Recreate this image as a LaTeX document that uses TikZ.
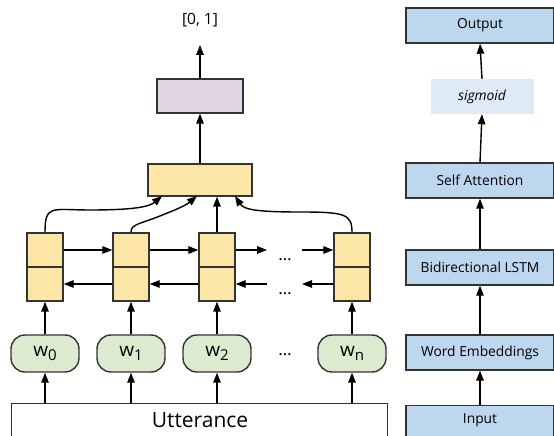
\documentclass[tikz,border=0pt]{standalone}
\usepackage{fontspec}
\setmainfont{Open Sans}
\usetikzlibrary{arrows.meta}
\definecolor{cellyel}{HTML}{FCE6A6}
\definecolor{purp}{HTML}{E2D6E6}
\definecolor{wgreen}{HTML}{DCEBCF}
\definecolor{rblue}{HTML}{BCD7EE}
\definecolor{sigbg}{HTML}{DEEBF7}
\definecolor{edge}{HTML}{333333}
\newcommand{\wsub}[1]{w\raisebox{-0.22em}{\fontsize{15}{15}\selectfont #1}}
\begin{document}
\begin{tikzpicture}[x=1pt,y=1pt,
  box/.style={draw=edge,line width=1.4pt,inner sep=0pt},
  cellbox/.style={box,fill=cellyel,minimum width=36pt,minimum height=34pt},
  wordbox/.style={box,fill=wgreen,rounded corners=14pt,minimum width=68pt,minimum height=37pt,font=\fontsize{19}{19}\selectfont},
  rbox/.style={box,fill=rblue,minimum width=148pt,minimum height=35pt,font=\fontsize{13.8}{14}\selectfont},
  arr/.style={-{Triangle[length=10pt,width=7.5pt]},line width=1.4pt,draw=black},
  dotsnode/.style={inner sep=0pt,font=\fontsize{17}{17}\selectfont}
]
\useasboundingbox (0,0) rectangle (554,436);
% left: utterance
\node[box,fill=white,minimum width=376pt,minimum height=60pt,anchor=north west] (utt) at (11,33) {};
\node[font=\fontsize{21}{21}\selectfont,inner sep=0pt] (utttext) at (200,16) {Utterance};
% words
\foreach \n/\x/\t in {0/45/0,1/131/1,2/217/2,n/352/n}{
  \node[wordbox] (w\n) at (\x,82.5) {\wsub{\t}};
  \node[cellbox] (c\n b) at (\x,152) {};
  \node[cellbox] (c\n t) at (\x,186) {};
  \draw[arr] (utt.north -| w\n) -- (w\n.south);
  \draw[arr] (w\n.north) -- (c\n b.south);
}
% horizontal arrows
\draw[arr] (c0t.east) -- (c1t.west);
\draw[arr] (c1t.east) -- (c2t.west);
\coordinate (fa) at (267,186);
\coordinate (fb) at (302,186);
\coordinate (ba) at (302,152);
\coordinate (bb) at (267,152);
\draw[arr] (c2t.east) -- (fa);
\draw[arr] (fb) -- (cnt.west);
\draw[arr] (c1b.west) -- (c0b.east);
\draw[arr] (c2b.west) -- (c1b.east);
\draw[arr] (cnb.west) -- (ba);
\draw[arr] (bb) -- (c2b.east);
% dots
\node[dotsnode] (d1) at (285,176) {\ldots};
\node[dotsnode] (d2) at (285,142) {\ldots};
\node[dotsnode] (d3) at (285,81) {\ldots};
% attention box
\node[box,fill=cellyel,minimum width=104pt,minimum height=32pt] (att) at (200,256) {};
\node[box,fill=purp,minimum width=86pt,minimum height=34pt] (sig) at (200,340) {};
\node[inner sep=0pt,font=\fontsize{15.5}{16}\selectfont] (out) at (200,416) {[0, 1]};
\coordinate (outarr) at (200,391);
\draw[arr] (att.north) -- (sig.south);
\draw[arr] (sig.north) -- (outarr);
% curved arrows
\coordinate (a1) at (162,240);
\coordinate (a2) at (197,240);
\coordinate (a4) at (235,240);
\draw[arr] (c0t.north) .. controls (45,232) and (52,226) .. (90,226) .. controls (125,226) and (148,228) .. (a1);
\draw[arr] (c1t.north) .. controls (131,212) and (140,212) .. (160,220) .. controls (175,226) and (185,230) .. (a2);
\draw[arr] (c2t.north) -- (att.south -| c2t);
\draw[arr] (cnt.north) .. controls (352,222) and (345,224) .. (300,224) .. controls (260,224) and (244,226) .. (a4);
% right column
\node[rbox,anchor=north] (inp) at (480,31) {};
\node[inner sep=0pt,font=\fontsize{13.8}{14}\selectfont] (inptext) at (480,16) {Input};
\node[rbox] (we) at (480,83.5) {Word Embeddings};
\node[rbox] (bl) at (480,168.5) {Bidirectional LSTM};
\node[rbox] (sa) at (480,255.5) {Self Attention};
\node[fill=sigbg,minimum width=103pt,minimum height=35pt,inner sep=0pt,font=\fontsize{13.8}{14}\selectfont\itshape] (sm) at (482,339.5) {sigmoid};
\node[rbox] (op) at (480,410.5) {Output};
\draw[arr] (inp.north) -- (we.south);
\draw[arr] (we.north) -- (bl.south);
\draw[arr] (bl.north) -- (sa.south);
\draw[arr] (sa.north) -- (sm.south);
\draw[arr] (sm.north) -- (op.south);
\end{tikzpicture}
\end{document}
